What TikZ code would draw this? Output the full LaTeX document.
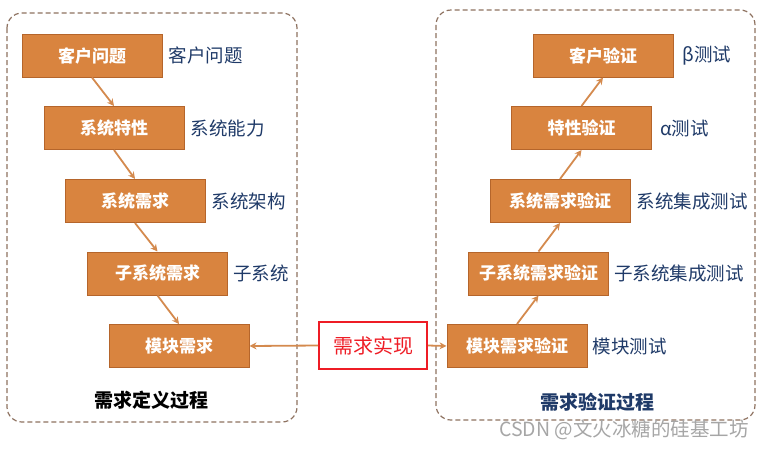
\documentclass[tikz,border=0pt]{standalone}
\usepackage{fontspec}
\setmainfont{Noto Sans CJK SC}
\usetikzlibrary{positioning, arrows.meta}
\definecolor{boxfill}{HTML}{D9843F}
\definecolor{boxedge}{HTML}{B5652B}
\definecolor{linkcol}{HTML}{D48A4E}
\definecolor{framecol}{HTML}{8E7260}
\definecolor{labcol}{HTML}{1F3A68}
\definecolor{redcol}{HTML}{EE1C25}

\begin{document}
\begin{tikzpicture}[x=1pt, y=-1pt,
  blk/.style={draw=boxedge, line width=1pt, fill=boxfill, text=white,
    font=\fontsize{17}{19}\selectfont\bfseries,
    minimum width=140pt, minimum height=43pt, inner sep=0pt},
  lab/.style={text=labcol, font=\fontsize{18.5}{20}\selectfont, inner sep=0pt, anchor=west},
  frame/.style={draw=framecol, line width=1.2pt, dash pattern=on 5pt off 3pt, rounded corners=15pt},
  link/.style={draw=linkcol, line width=1.8pt, -{Stealth[length=7pt,width=7pt]}}]
  \useasboundingbox (0,0) rectangle (765,448);
  % 两个虚线框
  \draw[frame] (7,13) rectangle (297,422);
  \draw[frame] (436,10) rectangle (755,420);
  % 需求定义过程
  \node[blk] (l1) at (92,55.5) {客户问题};
  \node[blk] (l2) at (114,128) {系统特性};
  \node[blk] (l3) at (135,201) {系统需求};
  \node[blk] (l4) at (157.5,273.5) {子系统需求};
  \node[blk] (l5) at (179,346) {模块需求};
  \node[lab, right=6pt of l1] (t1) {客户问题};
  \node[lab, right=6pt of l2] (t2) {系统能力};
  \node[lab, right=6pt of l3] (t3) {系统架构};
  \node[lab, right=5pt of l4] (t4) {子系统};
  \draw[link] (l1.south) -- (l2.north);
  \draw[link] (l2.south) -- (l3.north);
  \draw[link] (l3.south) -- (l4.north);
  \draw[link] (l4.south) -- (l5.north);
  \node[font=\fontsize{19}{21}\selectfont\bfseries] (defn) at (151.5,400) {需求定义过程};
  % 需求验证过程
  \node[blk] (r1) at (603,55.5) {客户验证};
  \node[blk] (r2) at (581.5,128) {特性验证};
  \node[blk] (r3) at (560,201) {系统需求验证};
  \node[blk] (r4) at (538.5,273.5) {子系统需求验证};
  \node[blk] (r5) at (517,346) {模块需求验证};
  \node[lab, right=9pt of r1] (s1) {β测试};
  \node[lab, right=8pt of r2] (s2) {α测试};
  \node[lab, right=6pt of r3] (s3) {系统集成测试};
  \node[lab, right=5pt of r4] (s4) {子系统集成测试};
  \node[lab, right=5pt of r5] (s5) {模块测试};
  \draw[link] (r5.north) -- (r4.south);
  \draw[link] (r4.north) -- (r3.south);
  \draw[link] (r3.north) -- (r2.south);
  \draw[link] (r2.north) -- (r1.south);
  \node[text=labcol, font=\fontsize{19}{21}\selectfont\bfseries] (verif) at (597,402) {需求验证过程};
  % 中间的需求实现
  \node[draw=redcol, line width=2pt, text=redcol, font=\fontsize{20}{22}\selectfont,
    minimum width=108pt, minimum height=47pt, inner sep=0pt] (mid) at (373,345.5) {需求实现};
  \draw[link] (mid.west) -- (l5.east);
  \draw[link] (mid.east) -- (r5.west);
  \node[anchor=east, text=black!35, font=\fontsize{19.5}{21}\selectfont, inner sep=0pt] (mark) at (749,430) {CSDN @文火冰糖的硅基工坊};
\end{tikzpicture}
\end{document}
